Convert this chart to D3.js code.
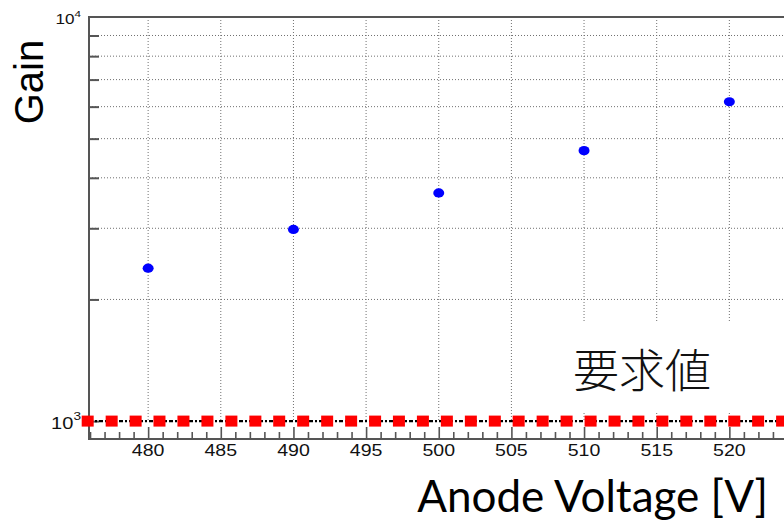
<!DOCTYPE html>
<html>
<head>
<meta charset="utf-8">
<script src="https://cdn.jsdelivr.net/npm/d3@7"></script>
<style>
  html, body { margin: 0; padding: 0; background: #fff; }
  svg { display: block; }
</style>
</head>
<body>
<svg id="chart" width="784" height="521"></svg>
<script>
// Measured gain versus anode voltage
const voltages = [480, 490, 500, 510, 520];
const gains = [2390, 2980, 3670, 4670, 6170];

// Required gain level, drawn as a marker line
const requiredGain = 1000;
const requiredMarkerX = [
  475.84, 477.49, 479.14, 480.78, 482.43, 484.08, 485.73, 487.38, 489.02, 490.67,
  492.32, 493.97, 495.62, 497.26, 498.91, 500.56, 502.21, 503.86, 505.50, 507.15,
  508.80, 510.45, 512.10, 513.74, 515.39, 517.04, 518.69, 520.34, 521.98, 523.63
];

// Axis ticks and labels
const xMajorTicks = [480, 485, 490, 495, 500, 505, 510, 515, 520];
const yGridValues = [2000, 3000, 4000, 5000, 6000, 7000, 8000, 9000];
const yDecadeLabels = [{ v: 1000, exp: "3" }, { v: 10000, exp: "4" }];

const xTitle = "Anode Voltage [V]";
const yTitle = "Gain";
const requirementLabel = "要求値";

const svg = d3.select("#chart");
const W = 784, H = 521;
const frame = { left: 89, top: 17, bottom: 439, right: 802 };

const x = d3.scaleLinear().domain([475.93, 525]).range([frame.left, frame.right]);
const y = d3.scaleLog().domain([903, 10000]).range([frame.bottom, frame.top]);

const frameColor = "#555";
const gridColor = "#707070";

const plot = svg.append("g");

// Grid: vertical dotted lines at major voltage ticks
plot.append("g").selectAll("line")
  .data(xMajorTicks)
  .join("line")
  .attr("x1", d => x(d)).attr("x2", d => x(d))
  .attr("y1", frame.top).attr("y2", y(requiredGain))
  .attr("stroke", gridColor).attr("stroke-width", 1)
  .attr("stroke-dasharray", "1,2");

// Grid: horizontal dotted lines at log sub-decades
plot.append("g").selectAll("line")
  .data(yGridValues)
  .join("line")
  .attr("x1", frame.left).attr("x2", W)
  .attr("y1", d => y(d)).attr("y2", d => y(d))
  .attr("stroke", gridColor).attr("stroke-width", 1)
  .attr("stroke-dasharray", "1,2");

// Frame (left, top, bottom)
plot.append("path")
  .attr("d", `M${frame.right},${frame.top}H${frame.left}V${frame.bottom}H${frame.right}`)
  .attr("fill", "none").attr("stroke", frameColor).attr("stroke-width", 2);

// Bottom axis ticks (major + minor, pointing inward)
const xMinor = d3.range(476, 526, 1).filter(v => v % 5 !== 0);
const xAxisMajor = d3.axisBottom(x).tickValues(xMajorTicks.concat([525])).tickSize(-12).tickFormat("");
const xAxisMinor = d3.axisBottom(x).tickValues(xMinor).tickSize(-7).tickFormat("");
[xAxisMajor, xAxisMinor].forEach(ax => {
  const g = plot.append("g").attr("transform", `translate(0,${frame.bottom})`).call(ax);
  g.select(".domain").remove();
  g.selectAll(".tick line").attr("stroke", frameColor).attr("stroke-width", 1.6);
});

// Left axis ticks at sub-decades
const yAxis = d3.axisLeft(y).tickValues(yGridValues.concat([1000])).tickSize(-10).tickFormat("");
const gy = plot.append("g").attr("transform", `translate(${frame.left},0)`).call(yAxis);
gy.select(".domain").remove();
gy.selectAll(".tick line").attr("stroke", frameColor).attr("stroke-width", 2);

// X tick labels (wide Helvetica-like digits)
plot.append("g").selectAll("text")
  .data(xMajorTicks)
  .join("text")
  .attr("transform", d => `translate(${x(d)},456) scale(1.2,1)`)
  .attr("text-anchor", "middle")
  .attr("font-family", "'Liberation Sans', Arial, sans-serif")
  .attr("font-size", 16.3)
  .attr("fill", "#111")
  .text(d => d);

// Y decade labels 10^n
const decadeSizes = { "3": 17, "4": 14.5 };
yDecadeLabels.forEach(d => {
  const fs = decadeSizes[d.exp];
  const yy = d.v === 1000 ? y(d.v) + 7.5 : y(d.v) + 7;
  const g = plot.append("g").attr("transform", `translate(81,${yy}) scale(1.18,1)`);
  const t = g.append("text")
    .attr("text-anchor", "end")
    .attr("font-family", "'Liberation Sans', Arial, sans-serif")
    .attr("font-size", fs)
    .attr("fill", "#111");
  t.append("tspan").text("10");
  t.append("tspan").attr("dy", -fs * 0.48).attr("font-size", fs * 0.68).text(d.exp);
});

// Measured points
plot.append("g").selectAll("ellipse")
  .data(voltages.map((v, i) => ({ v, g: gains[i] })))
  .join("ellipse")
  .attr("cx", d => x(d.v)).attr("cy", d => y(d.g))
  .attr("rx", 5.5).attr("ry", 4.6)
  .attr("fill", "#0000ff");

// Label box for the requirement
plot.append("rect")
  .attr("x", 560).attr("y", 322).attr("width", W - 560).attr("height", 91)
  .attr("fill", "#fff");
plot.append("text")
  .attr("x", 573).attr("y", 387)
  .attr("font-family", "'Noto Sans CJK JP', 'Noto Sans CJK SC', sans-serif")
  .attr("font-weight", 300)
  .attr("font-size", 46)
  .attr("fill", "#111")
  .text(requirementLabel);

// Requirement line: dash-dot black line with red square markers
plot.append("line")
  .attr("x1", frame.left).attr("x2", W)
  .attr("y1", y(requiredGain)).attr("y2", y(requiredGain))
  .attr("stroke", "#000").attr("stroke-width", 2.2)
  .attr("stroke-dasharray", "4,2,2,2");
plot.append("g").selectAll("rect")
  .data(requiredMarkerX)
  .join("rect")
  .attr("x", d => x(d) - 6).attr("y", y(requiredGain) - 5.5)
  .attr("width", 12).attr("height", 11)
  .attr("fill", "#ff0000");

// Axis titles
svg.append("text")
  .attr("transform", "translate(43,82) rotate(-90)")
  .attr("text-anchor", "middle")
  .attr("font-family", "'Liberation Sans', Arial, sans-serif")
  .attr("font-size", 40)
  .attr("fill", "#000")
  .text(yTitle);

svg.append("text")
  .attr("x", 768).attr("y", 512)
  .attr("text-anchor", "end")
  .attr("font-family", "Lato, 'Open Sans', sans-serif")
  .attr("font-size", 44)
  .attr("fill", "#000")
  .text(xTitle);
</script>
</body>
</html>
